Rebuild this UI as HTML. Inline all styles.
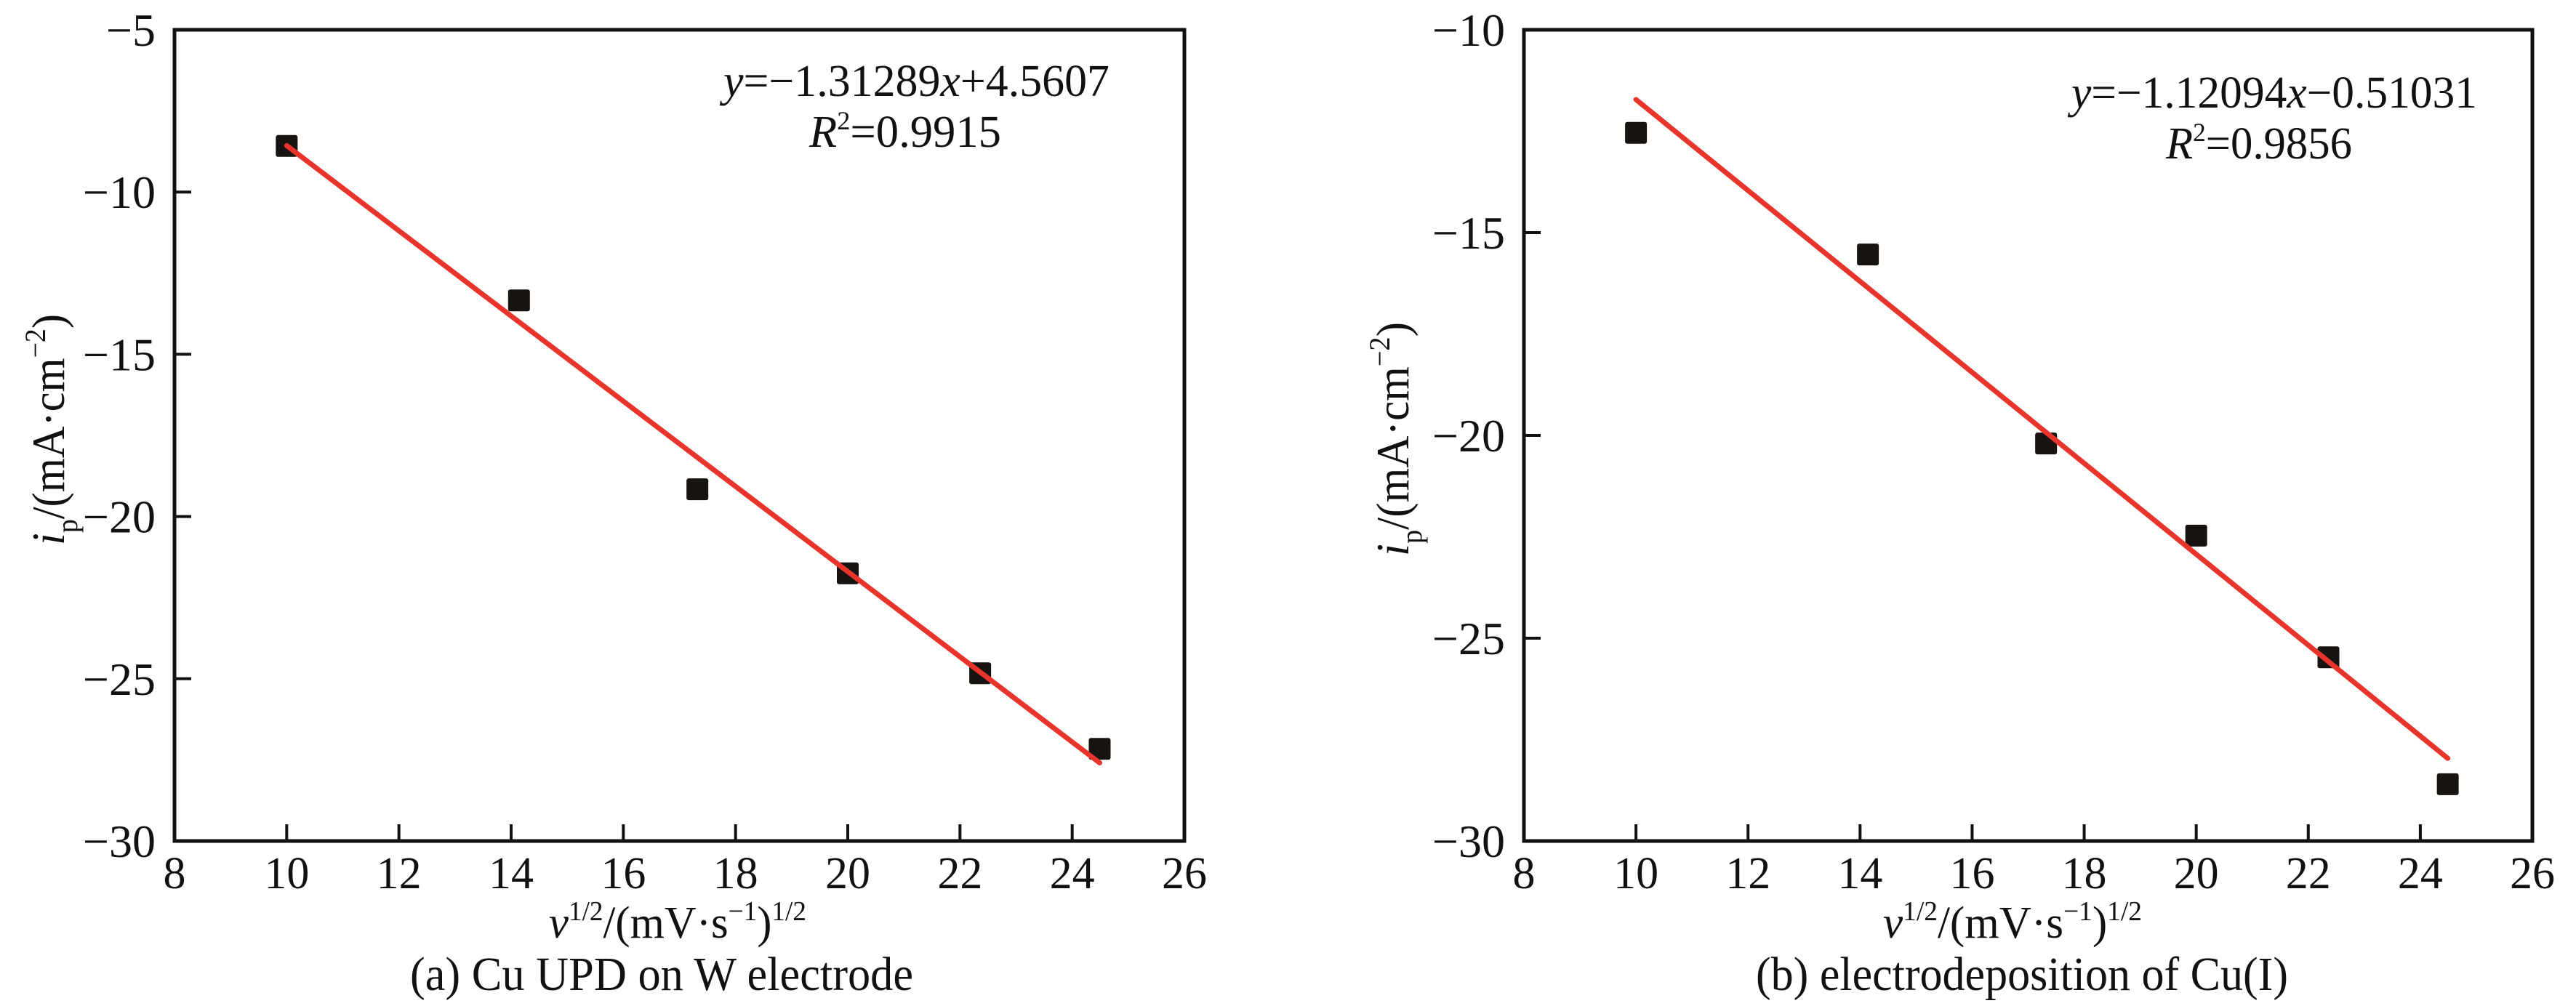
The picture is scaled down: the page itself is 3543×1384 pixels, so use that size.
<!DOCTYPE html>
<html><head><meta charset="utf-8"><style>
html,body{margin:0;padding:0;background:#fff;}
svg{display:block;font-family:"Liberation Serif","DejaVu Serif",serif;}
</style></head><body>
<svg id="fig" width="3543" height="1384" viewBox="0 0 3543 1384" xmlns="http://www.w3.org/2000/svg">
<rect width="3543" height="1384" fill="#fff"/>
<g id="pa"></g>
<g id="pb"></g>
</svg>
<script>
const xTicks = [8,10,12,14,16,18,20,22,24,26];
const aX = [10,14.14,17.32,20,22.36,24.49];
const aY = [-8.58,-13.34,-19.16,-21.75,-24.83,-27.16];
const aSlope = -1.31289, aIntercept = 4.5607;
const aYTicks = [-5,-10,-15,-20,-25,-30];
const bX = [10,14.14,17.32,20,22.36,24.49];
const bY = [-12.54,-15.54,-20.2,-22.47,-25.47,-28.6];
const bSlope = -1.12094, bIntercept = -0.51031;
const bYTicks = [-10,-15,-20,-25,-30];
const NS = "http://www.w3.org/2000/svg";
function mk(parent, tag, attrs){const e=document.createElementNS(NS,tag);for(const k in attrs)e.setAttribute(k,attrs[k]);parent.appendChild(e);return e;}
function fmt(v){return v<0?"\u2212"+Math.abs(v):String(v);}

function panel(gid, cfg){
  const g=document.getElementById(gid);
  const L=cfg.left,R=cfg.right,T=41,B=1157;
  const sx=v=>L+(v-8)/(26-8)*(R-L);
  const sy=v=>T+(cfg.ymax-v)/(cfg.ymax-cfg.ymin)*(B-T);
  // ticks
  xTicks.forEach(t=>{
    if(t>8&&t<26){const tk=mk(g,"line",{x1:sx(t),x2:sx(t),y1:B,y2:B-23,stroke:"#111","stroke-width":4});
    
    }
    const lb=mk(g,"text",{x:sx(t),y:1222,"text-anchor":"middle","font-size":62,fill:"#111"});
    lb.textContent=String(t);
    
    
  });
  cfg.yTicks.forEach(t=>{
    if(t<cfg.ymax&&t>cfg.ymin){const tk=mk(g,"line",{x1:L,x2:L+23,y1:sy(t),y2:sy(t),stroke:"#111","stroke-width":4});
    
    }
    const lb=mk(g,"text",{x:L-26,y:sy(t)+22,"text-anchor":"end","font-size":64,fill:"#111"});
    lb.textContent=fmt(t);
    
    
  });
  // frame
  const fr=mk(g,"rect",{x:L,y:T,width:R-L,height:B-T,fill:"none",stroke:"#111","stroke-width":5});
  
  
  // points
  cfg.xs.forEach((x,i)=>{
    const p=mk(g,"rect",{x:sx(x)-15,y:sy(cfg.ys[i])-15,width:30,height:30,rx:3,fill:"#161310"});
    
    
  });
  // fit line
  const x0=cfg.xs[0],x1=cfg.xs[cfg.xs.length-1];
  const ln=mk(g,"line",{x1:sx(x0),y1:sy(cfg.slope*x0+cfg.intercept),x2:sx(x1),y2:sy(cfg.slope*x1+cfg.intercept),stroke:"#e8342a","stroke-width":7,"stroke-linecap":"round"});
  
  
  // equation
  const eq=mk(g,"text",{x:cfg.eqX,y:cfg.eqY,"font-size":62,fill:"#111",textLength:cfg.eqW,lengthAdjust:"spacingAndGlyphs"});
  eq.innerHTML='<tspan font-style="italic">y</tspan>='+cfg.eqMid+'<tspan font-style="italic">x</tspan>'+cfg.eqEnd;
  
  
  const r2=mk(g,"text",{x:cfg.r2X,y:cfg.eqY+70,"font-size":62,fill:"#111",textLength:cfg.r2W,lengthAdjust:"spacingAndGlyphs"});
  r2.innerHTML='<tspan font-style="italic">R</tspan><tspan font-size="36" dy="-24">2</tspan><tspan dy="24">='+cfg.r2+'</tspan>';
  
  
  // y title
  const yt=mk(g,"text",{transform:`translate(${cfg.ytX},${cfg.ytBot}) rotate(-90)`,"font-size":64,fill:"#111",textLength:cfg.ytLen,lengthAdjust:"spacingAndGlyphs"});
  yt.innerHTML='<tspan font-style="italic">i</tspan><tspan font-size="40" dy="18">p</tspan><tspan dy="-18">/(mA·cm</tspan><tspan font-size="40" dy="-26">−2</tspan><tspan dy="26">)</tspan>';
  
  
  // x title
  const xt=mk(g,"text",{x:cfg.xtX,y:1290,"font-size":62,fill:"#111",textLength:cfg.xtW,lengthAdjust:"spacingAndGlyphs"});
  xt.innerHTML='<tspan font-style="italic">v</tspan><tspan font-size="38" dy="-24">1/2</tspan><tspan dy="24">/(mV·s</tspan><tspan font-size="38" dy="-24">−1</tspan><tspan dy="24">)</tspan><tspan font-size="38" dy="-24">1/2</tspan>';
  
  
  // caption
  const cp=mk(g,"text",{x:cfg.capX,y:1362,"font-size":66,fill:"#111",textLength:cfg.capW,lengthAdjust:"spacingAndGlyphs"});
  cp.textContent=cfg.caption;
  
  
}
panel("pa",{left:240,right:1629,ymax:-5,ymin:-30,yTicks:aYTicks,xs:aX,ys:aY,slope:aSlope,intercept:aIntercept,
  eqX:995,eqY:132,eqW:531,eqMid:'−1.31289',eqEnd:'+4.5607',r2X:1113,r2W:264,r2:'0.9915',
  ytX:88,ytBot:750,ytLen:318,xtX:755,xtW:354,capX:564,capW:692,caption:'(a) Cu UPD on W electrode'});
panel("pb",{left:2096,right:3483,ymax:-10,ymin:-30,yTicks:bYTicks,xs:bX,ys:bY,slope:bSlope,intercept:bIntercept,
  eqX:2849,eqY:148,eqW:558,eqMid:'−1.12094',eqEnd:'−0.51031',r2X:2979,r2W:256,r2:'0.9856',
  ytX:1937,ytBot:765,ytLen:322,xtX:2590,xtW:356,capX:2415,capW:732,caption:'(b) electrodeposition of Cu(I)'});
</script>
</body></html>
